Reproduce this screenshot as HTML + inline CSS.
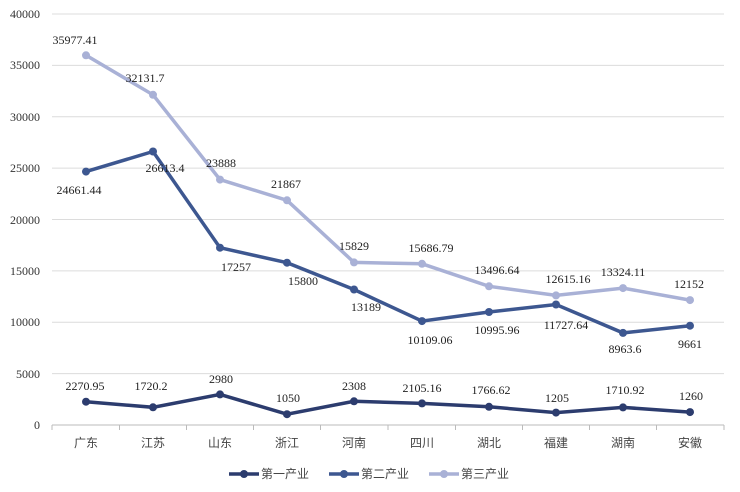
<!DOCTYPE html>
<html><head><meta charset="utf-8"><style>body{margin:0;background:#fff}svg{display:block}</style></head><body>
<svg width="740" height="492" xmlns="http://www.w3.org/2000/svg" font-family="'Liberation Serif','Noto Serif CJK SC',serif" font-size="12" fill="#222">
<rect width="740" height="492" fill="#fff"/>
<g stroke="#dcdcdc" stroke-width="1">
<line x1="52" x2="724" y1="14" y2="14"/><line x1="52" x2="724" y1="65.4" y2="65.4"/><line x1="52" x2="724" y1="116.8" y2="116.8"/><line x1="52" x2="724" y1="168.1" y2="168.1"/><line x1="52" x2="724" y1="219.5" y2="219.5"/><line x1="52" x2="724" y1="270.9" y2="270.9"/><line x1="52" x2="724" y1="322.3" y2="322.3"/><line x1="52" x2="724" y1="373.6" y2="373.6"/>
</g>
<line x1="52" x2="724" y1="425" y2="425" stroke="#bbb"/>
<g stroke="#bbb"><line x1="52" x2="52" y1="425" y2="430"/><line x1="119.5" x2="119.5" y1="425" y2="430"/><line x1="186.5" x2="186.5" y1="425" y2="430"/><line x1="253.5" x2="253.5" y1="425" y2="430"/><line x1="320.5" x2="320.5" y1="425" y2="430"/><line x1="388" x2="388" y1="425" y2="430"/><line x1="455.5" x2="455.5" y1="425" y2="430"/><line x1="522.5" x2="522.5" y1="425" y2="430"/><line x1="589.5" x2="589.5" y1="425" y2="430"/><line x1="656.5" x2="656.5" y1="425" y2="430"/><line x1="724" x2="724" y1="425" y2="430"/></g>
<g text-anchor="end" fill="#333"><text x="40" y="18">40000</text><text x="40" y="69">35000</text><text x="40" y="121">30000</text><text x="40" y="172">25000</text><text x="40" y="224">20000</text><text x="40" y="275">15000</text><text x="40" y="326">10000</text><text x="40" y="378">5000</text><text x="40" y="429">0</text></g>
<g text-anchor="middle" font-family="'Liberation Sans','Noto Sans CJK SC',sans-serif" fill="#444" font-size="12"><text x="86" y="447">广东</text><text x="153" y="447">江苏</text><text x="220" y="447">山东</text><text x="287" y="447">浙江</text><text x="354" y="447">河南</text><text x="422" y="447">四川</text><text x="489" y="447">湖北</text><text x="556" y="447">福建</text><text x="623" y="447">湖南</text><text x="690" y="447">安徽</text></g>
<polyline fill="none" stroke="#a9b1d6" stroke-width="3.5" points="86,55.3 153,94.8 220,179.6 287,200.3 354,262.4 422,263.8 489,286.3 556,295.4 623,288.1 690,300.1"/>
<g fill="#a9b1d6"><circle cx="86" cy="55.3" r="4"/><circle cx="153" cy="94.8" r="4"/><circle cx="220" cy="179.6" r="4"/><circle cx="287" cy="200.3" r="4"/><circle cx="354" cy="262.4" r="4"/><circle cx="422" cy="263.8" r="4"/><circle cx="489" cy="286.3" r="4"/><circle cx="556" cy="295.4" r="4"/><circle cx="623" cy="288.1" r="4"/><circle cx="690" cy="300.1" r="4"/></g>
<polyline fill="none" stroke="#3d5790" stroke-width="3.5" points="86,171.6 153,151.5 220,247.7 287,262.7 354,289.5 422,321.1 489,312 556,304.5 623,332.9 690,325.7"/>
<g fill="#3d5790"><circle cx="86" cy="171.6" r="4"/><circle cx="153" cy="151.5" r="4"/><circle cx="220" cy="247.7" r="4"/><circle cx="287" cy="262.7" r="4"/><circle cx="354" cy="289.5" r="4"/><circle cx="422" cy="321.1" r="4"/><circle cx="489" cy="312" r="4"/><circle cx="556" cy="304.5" r="4"/><circle cx="623" cy="332.9" r="4"/><circle cx="690" cy="325.7" r="4"/></g>
<polyline fill="none" stroke="#2c3c6e" stroke-width="3.5" points="86,401.7 153,407.3 220,394.4 287,414.2 354,401.3 422,403.4 489,406.8 556,412.6 623,407.4 690,412.1"/>
<g fill="#2c3c6e"><circle cx="86" cy="401.7" r="4"/><circle cx="153" cy="407.3" r="4"/><circle cx="220" cy="394.4" r="4"/><circle cx="287" cy="414.2" r="4"/><circle cx="354" cy="401.3" r="4"/><circle cx="422" cy="403.4" r="4"/><circle cx="489" cy="406.8" r="4"/><circle cx="556" cy="412.6" r="4"/><circle cx="623" cy="407.4" r="4"/><circle cx="690" cy="412.1" r="4"/></g>
<g text-anchor="middle">
<text x="75" y="44">35977.41</text><text x="145" y="82">32131.7</text><text x="221" y="167">23888</text><text x="286" y="188">21867</text><text x="354" y="250">15829</text><text x="431" y="252">15686.79</text><text x="497" y="274">13496.64</text><text x="568" y="283">12615.16</text><text x="623" y="276">13324.11</text><text x="689" y="288">12152</text>
<text x="79" y="194">24661.44</text><text x="165" y="172">26613.4</text><text x="236" y="271">17257</text><text x="303" y="285">15800</text><text x="366" y="311">13189</text><text x="430" y="344">10109.06</text><text x="497" y="334">10995.96</text><text x="566" y="329">11727.64</text><text x="625" y="353">8963.6</text><text x="690" y="348">9661</text>
<text x="85" y="390">2270.95</text><text x="151" y="390">1720.2</text><text x="221" y="383">2980</text><text x="288" y="402">1050</text><text x="354" y="390">2308</text><text x="422" y="392">2105.16</text><text x="491" y="394">1766.62</text><text x="557" y="402">1205</text><text x="625" y="394">1710.92</text><text x="691" y="400">1260</text>
</g>
<g font-family="'Liberation Sans','Noto Sans CJK SC',sans-serif" font-size="12" fill="#444">
<line x1="229" x2="259" y1="474" y2="474" stroke="#2c3c6e" stroke-width="3.5"/><circle cx="244" cy="474" r="4" fill="#2c3c6e"/><text x="261" y="478">第一产业</text>
<line x1="329" x2="359" y1="474" y2="474" stroke="#3d5790" stroke-width="3.5"/><circle cx="344" cy="474" r="4" fill="#3d5790"/><text x="361" y="478">第二产业</text>
<line x1="429" x2="459" y1="474" y2="474" stroke="#a9b1d6" stroke-width="3.5"/><circle cx="444" cy="474" r="4" fill="#a9b1d6"/><text x="461" y="478">第三产业</text>
</g>
</svg>
</body></html>
